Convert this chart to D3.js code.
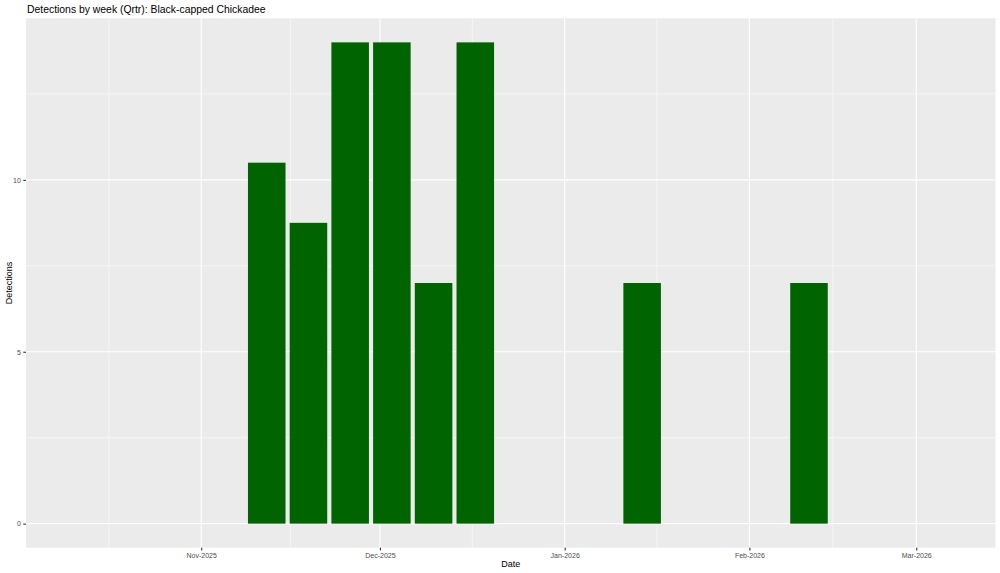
<!DOCTYPE html>
<html>
<head>
<meta charset="utf-8">
<script src="https://cdn.jsdelivr.net/npm/d3@7"></script>
<style>
  html, body { margin: 0; padding: 0; background: #fff; }
  svg { display: block; font-family: "Liberation Sans", Arial, Helvetica, sans-serif; }
</style>
</head>
<body>
<svg id="chart" width="1000" height="573"></svg>
<script>
// ---- data ----
const weeks = ["2025-11-12", "2025-11-19", "2025-11-26", "2025-12-03", "2025-12-10", "2025-12-17", "2026-01-14", "2026-02-11"];
const detections = [10.5, 8.75, 14, 14, 7, 14, 7, 7];
const yTicks = [0, 5, 10];
const xTickDates = ["2025-11-01", "2025-12-01", "2026-01-01", "2026-02-01", "2026-03-01"];
const xTickLabels = ["Nov-2025", "Dec-2025", "Jan-2026", "Feb-2026", "Mar-2026"];
const titleText = "Detections by week (Qrtr): Black-capped Chickadee";

// ---- layout ----
const W = 1000, H = 573;
const panel = { left: 26, right: 995.5, top: 18.3, bottom: 547.7 };
const parse = d3.utcParse("%Y-%m-%d");
const DAY = 86400000;

const x = d3.scaleUtc()
  .domain([new Date(Date.UTC(2025, 9, 2, 14, 24)), new Date(Date.UTC(2026, 2, 14, 7, 12))])
  .range([panel.left, panel.right]);
const y = d3.scaleLinear().domain([-0.7, 14.7]).range([panel.bottom, panel.top]);

const svg = d3.select("#chart");
svg.append("rect").attr("width", W).attr("height", H).attr("fill", "#fff");

// panel background
svg.append("rect")
  .attr("x", panel.left).attr("y", panel.top)
  .attr("width", panel.right - panel.left).attr("height", panel.bottom - panel.top)
  .attr("fill", "#EBEBEB");

const grid = svg.append("g");
// minor y grid
const yMinor = [2.5, 7.5, 12.5];
grid.selectAll(".ymin").data(yMinor).enter().append("line")
  .attr("x1", panel.left).attr("x2", panel.right)
  .attr("y1", d => y(d)).attr("y2", d => y(d))
  .attr("stroke", "#fff").attr("stroke-width", 0.55);
// minor x grid: midpoints between month breaks (including Oct 1)
const majorDates = xTickDates.map(parse);
const allBreaks = [new Date(Date.UTC(2025, 9, 1))].concat(majorDates);
const xMinor = [];
for (let i = 0; i < allBreaks.length - 1; i++) {
  xMinor.push(new Date((allBreaks[i].getTime() + allBreaks[i + 1].getTime()) / 2));
}
grid.selectAll(".xmin").data(xMinor.filter(d => x(d) >= panel.left && x(d) <= panel.right)).enter().append("line")
  .attr("y1", panel.top).attr("y2", panel.bottom)
  .attr("x1", d => x(d)).attr("x2", d => x(d))
  .attr("stroke", "#fff").attr("stroke-width", 0.55);
// major grid
grid.selectAll(".ymaj").data(yTicks).enter().append("line")
  .attr("x1", panel.left).attr("x2", panel.right)
  .attr("y1", d => y(d)).attr("y2", d => y(d))
  .attr("stroke", "#fff").attr("stroke-width", 1.1);
grid.selectAll(".xmaj").data(majorDates).enter().append("line")
  .attr("y1", panel.top).attr("y2", panel.bottom)
  .attr("x1", d => x(d)).attr("x2", d => x(d))
  .attr("stroke", "#fff").attr("stroke-width", 1.1);

// bars: width 0.9 * 7 days
const barDays = 6.3;
const data = weeks.map((w, i) => ({ date: parse(w), value: detections[i] }));
svg.append("g").selectAll("rect").data(data).enter().append("rect")
  .attr("x", d => x(new Date(d.date.getTime() - barDays / 2 * DAY)))
  .attr("width", d => x(new Date(d.date.getTime() + barDays / 2 * DAY)) - x(new Date(d.date.getTime() - barDays / 2 * DAY)))
  .attr("y", d => y(d.value))
  .attr("height", d => y(0) - y(d.value))
  .attr("fill", "#006400");

// axes
const xAxis = svg.append("g").attr("transform", `translate(0,${panel.bottom})`)
  .call(d3.axisBottom(x).tickValues(majorDates).tickSize(2.7).tickPadding(2.5)
    .tickFormat((d, i) => xTickLabels[i]));
const yAxis = svg.append("g").attr("transform", `translate(${panel.left},0)`)
  .call(d3.axisLeft(y).tickValues(yTicks).tickSize(2.7).tickPadding(2.5));
[xAxis, yAxis].forEach(a => {
  a.select(".domain").remove();
  a.selectAll(".tick line").attr("stroke", "#333").attr("stroke-width", 1.1);
  a.selectAll(".tick text").attr("fill", "#4D4D4D").style("font-size", "7px")
    .style("font-family", "'Liberation Sans', Arial, sans-serif");
});

// titles
svg.append("text").attr("x", panel.left + 1).attr("y", 12.5)
  .style("font-size", "10.4px").attr("fill", "#000").text(titleText);
svg.append("text").attr("x", (panel.left + panel.right) / 2).attr("y", 567)
  .attr("text-anchor", "middle").style("font-size", "9px").attr("fill", "#000").text("Date");
svg.append("text")
  .attr("transform", `translate(11.5,${(panel.top + panel.bottom) / 2}) rotate(-90)`)
  .attr("text-anchor", "middle").style("font-size", "9px").attr("fill", "#000").text("Detections");
</script>
</body>
</html>
